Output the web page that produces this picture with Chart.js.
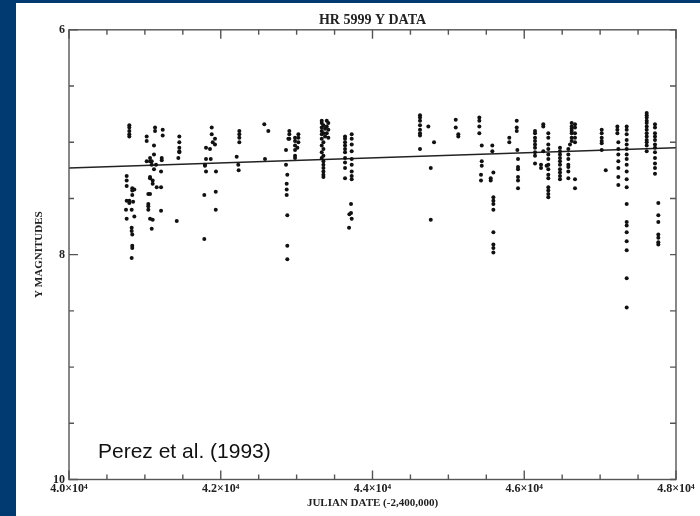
<!DOCTYPE html>
<html>
<head>
<meta charset="utf-8">
<script src="https://cdn.jsdelivr.net/npm/chart.js@4.4.1/dist/chart.umd.min.js"></script>
<style>
  html, body { margin: 0; padding: 0; background: #003a70; }
  #panel { position: absolute; left: 16px; top: 3px; width: 684px; height: 513px; background: #ffffff; }
  #wrap { position: absolute; left: 0; top: 0; width: 700px; height: 516px; }
</style>
</head>
<body>
<div id="panel"></div>
<div id="wrap"><canvas id="hrChart" width="700" height="516"></canvas></div>
<script>
// Julian date (-2,400,000) of each observation
var jd = [
  40795, 40795, 40795, 40795, 40795, 40760, 40760, 40760, 40834, 40834, 40834, 40861, 40760, 40795, 40795, 40845,
  40751, 40826, 40760, 40861, 40826, 40826, 40834, 40834, 40834, 40826,
  41134, 41134, 41235, 41235, 41024, 41024, 41120, 41120, 41068, 41068, 41024, 41090, 41090, 41147, 41222, 41222,
  41120, 41213, 41068, 41068, 41103, 41103, 41156, 41213, 41045, 41068, 41045, 41045, 41045, 41213, 41068, 41103, 41090,
  41454, 41454, 41454, 41454, 41454, 41441, 41420,
  41881, 41881, 41924, 41924, 41894, 41806, 41858, 41806, 41868, 41792, 41792, 41806, 41937, 41783, 41934, 41934, 41783,
  42245, 42245, 42245, 42245, 42210, 42231, 42236,
  42574, 42627, 42583,
  42904, 42904, 42904, 42891, 42860, 42860, 42877, 42869, 42869, 42869, 42877, 42877, 42877,
  42979, 42979, 42979, 42979, 42979, 42979, 43023, 43023, 43023, 43010,
  43331, 43397, 43331, 43418, 43353, 43397, 43331, 43375, 43418, 43331, 43353, 43397, 43331, 43375, 43418, 43331,
  43353, 43331, 43353, 43331, 43353, 43331, 43353, 43353, 43353, 43353, 43353, 43353,
  43638, 43638, 43638, 43638, 43638, 43638, 43638, 43638, 43638, 43638,
  43726, 43726, 43726, 43726, 43726, 43726, 43726, 43726, 43726, 43717, 43717, 43695, 43726, 43691,
  44626, 44626, 44626, 44626, 44626, 44626, 44626, 44626, 44736, 44811, 44768, 44768,
  45097, 45097, 45131, 45131,
  45408, 45408, 45408, 45408, 45440, 45440, 45440, 45430, 45430, 45579, 45579, 45593, 45558, 45558,
  45593, 45593, 45593, 45593, 45593, 45593, 45593, 45593,
  45901, 45901, 45901, 45803, 45803, 45909, 45918, 45918, 45918, 45918, 45918, 45918,
  46142, 46142, 46142, 46142, 46142, 46142, 46142, 46142, 46142, 46251, 46251, 46251,
  46317, 46317, 46317, 46317, 46317, 46317, 46317, 46317, 46317, 46317, 46317, 46317, 46317, 46317, 46221, 46221, 46295,
  46471, 46471, 46471, 46471, 46471, 46471, 46471, 46471, 46471, 46471,
  46581, 46581, 46581, 46581, 46581, 46581, 46581,
  46625, 46625, 46625, 46625, 46625, 46625, 46625, 46603,
  46669, 46669, 46669, 46669, 46669, 46669, 46669,
  47021, 47021, 47021, 47021, 47021, 47021, 47074,
  47227, 47227, 47227, 47240, 47240, 47240, 47240, 47240, 47240, 47240,
  47350, 47350, 47350, 47350, 47350, 47350, 47350, 47350, 47350, 47350,
  47350, 47350, 47350, 47350, 47350, 47350, 47350, 47350, 47350, 47350,
  47614, 47614, 47614, 47614, 47614, 47614, 47614, 47614, 47614, 47614, 47614, 47614, 47614,
  47723, 47723, 47723, 47723, 47723, 47723, 47723, 47723, 47723, 47723, 47723, 47723,
  47767, 47767, 47767, 47767, 47767, 47767, 47767
];

// Y magnitude of each observation
var mag = [
  6.85, 6.87, 6.90, 6.93, 6.95, 7.30, 7.34, 7.39, 7.41, 7.43, 7.47, 7.42, 7.52, 7.52, 7.54, 7.53,
  7.60, 7.60, 7.68, 7.66, 7.76, 7.79, 7.82, 7.92, 7.94, 8.03,
  6.87, 6.90, 6.89, 6.94, 6.95, 6.99, 7.03, 7.11, 7.14, 7.17, 7.17, 7.17, 7.20, 7.20, 7.14, 7.16,
  7.24, 7.26, 7.31, 7.32, 7.34, 7.37, 7.40, 7.40, 7.46, 7.46, 7.55, 7.57, 7.60, 7.61, 7.68, 7.69, 7.77,
  6.95, 7.00, 7.05, 7.08, 7.09, 7.14, 7.70,
  6.87, 6.93, 6.97, 7.02, 7.00, 7.05, 7.06, 7.15, 7.15, 7.20, 7.21, 7.26, 7.26, 7.47, 7.44, 7.60, 7.86,
  6.90, 6.93, 6.96, 7.00, 7.13, 7.20, 7.25,
  6.84, 6.90, 7.15,
  6.90, 6.93, 6.97, 6.97, 7.07, 7.20, 7.29, 7.37, 7.42, 7.47, 7.65, 7.92, 8.04,
  6.96, 6.99, 7.03, 7.07, 7.12, 7.14, 6.93, 6.96, 7.00, 7.05,
  6.81, 6.81, 6.83, 6.83, 6.85, 6.86, 6.87, 6.88, 6.89, 6.90, 6.92, 6.92, 6.93, 6.95, 6.96, 6.97,
  7.00, 7.03, 7.06, 7.09, 7.12, 7.14, 7.17, 7.20, 7.23, 7.26, 7.29, 7.31,
  6.95, 6.97, 7.00, 7.03, 7.06, 7.09, 7.14, 7.18, 7.23, 7.32,
  6.93, 6.97, 7.02, 7.08, 7.15, 7.20, 7.26, 7.30, 7.33, 7.55, 7.63, 7.64, 7.68, 7.76,
  6.76, 6.78, 6.81, 6.85, 6.89, 6.92, 6.94, 7.06, 6.86, 7.00, 7.23, 7.69,
  6.80, 6.87, 6.93, 6.95,
  6.78, 6.81, 6.86, 6.92, 7.03, 7.17, 7.21, 7.29, 7.34, 7.03, 7.08, 7.27, 7.32, 7.34,
  7.49, 7.52, 7.55, 7.60, 7.80, 7.91, 7.94, 7.98,
  6.81, 6.87, 6.90, 6.96, 7.00, 7.07, 7.15, 7.22, 7.24, 7.31, 7.34, 7.41,
  6.90, 6.92, 6.96, 6.99, 7.02, 7.05, 7.09, 7.12, 7.19, 6.84, 6.86, 7.08,
  6.92, 6.96, 7.02, 7.06, 7.11, 7.15, 7.20, 7.24, 7.29, 7.32, 7.40, 7.43, 7.46, 7.49, 7.20, 7.23, 7.21,
  7.05, 7.08, 7.11, 7.14, 7.17, 7.20, 7.24, 7.27, 7.30, 7.33,
  7.06, 7.11, 7.15, 7.20, 7.22, 7.26, 7.32,
  6.83, 6.86, 6.88, 6.90, 6.92, 6.96, 6.99, 7.02,
  6.84, 6.87, 6.92, 6.96, 7.00, 7.33, 7.41,
  6.89, 6.92, 6.96, 6.99, 7.01, 7.07, 7.25,
  6.86, 6.89, 6.92, 7.00, 7.06, 7.11, 7.17, 7.23, 7.31, 7.38,
  6.86, 6.89, 6.93, 6.98, 7.02, 7.06, 7.11, 7.15, 7.20, 7.26,
  7.33, 7.40, 7.55, 7.71, 7.74, 7.80, 7.88, 7.96, 8.21, 8.47,
  6.74, 6.76, 6.78, 6.81, 6.83, 6.86, 6.89, 6.92, 6.95, 6.98, 7.00, 7.03, 7.08,
  6.84, 6.87, 6.92, 6.95, 6.98, 7.02, 7.05, 7.09, 7.14, 7.19, 7.23, 7.28,
  7.54, 7.65, 7.71, 7.82, 7.85, 7.89, 7.91
];

// straight-line fit drawn across the plot
var fitJD = [40000, 48000];
var fitMag = [7.23, 7.05];

// axis ticks
var xTickValues = [40000, 42000, 44000, 46000, 48000];
var yTickValues = [6, 8, 10];
var xMinorStep = 500;
var yMinorStep = 0.5;

var credit = "Perez et al. (1993)";

var points = jd.map(function (d, i) { return { x: d, y: mag[i] }; });
var fitLine = fitJD.map(function (d, i) { return { x: d, y: fitMag[i] }; });

var serif = "'Liberation Serif', 'DejaVu Serif', serif";

// box round the plot with inward tick marks, plus the credit line
var frame = {
  id: "frame",
  afterDatasetsDraw: function (chart) {
    var ctx = chart.ctx;
    var a = chart.chartArea;
    var xs = chart.scales.x;
    var ys = chart.scales.y;
    ctx.save();
    ctx.strokeStyle = "#555";
    ctx.lineWidth = 1.4;
    ctx.strokeRect(a.left, a.top, a.right - a.left, a.bottom - a.top);
    ctx.beginPath();
    for (var v = xs.min; v <= xs.max; v += xMinorStep) {
      var px = xs.getPixelForValue(v);
      var len = v % 2000 === 0 ? 9 : 5;
      ctx.moveTo(px, a.top); ctx.lineTo(px, a.top + len);
      ctx.moveTo(px, a.bottom); ctx.lineTo(px, a.bottom - len);
    }
    for (var m = ys.min; m <= ys.max + 0.001; m += yMinorStep) {
      var py = ys.getPixelForValue(m);
      var lenL = m % 2 === 0 ? 9 : 5;
      ctx.moveTo(a.left, py); ctx.lineTo(a.left + lenL, py);
      ctx.moveTo(a.right, py); ctx.lineTo(a.right - 6, py);
    }
    ctx.stroke();
    ctx.fillStyle = "#111";
    ctx.font = "21px 'Liberation Sans', Arial, sans-serif";
    ctx.textBaseline = "alphabetic";
    ctx.fillText(credit, 98, 458);
    ctx.restore();
  }
};

new Chart("hrChart", {
  type: "scatter",
  data: {
    datasets: [
      {
        data: points,
        pointRadius: 2,
        pointBackgroundColor: "#111",
        pointBorderWidth: 0,
        showLine: false
      },
      {
        type: "line",
        data: fitLine,
        borderColor: "#222",
        borderWidth: 1.5,
        pointRadius: 0,
        fill: false
      }
    ]
  },
  options: {
    responsive: false,
    animation: false,
    devicePixelRatio: 1,
    layout: { padding: { left: 0, right: 24, top: 0, bottom: 0 } },
    plugins: {
      legend: { display: false },
      tooltip: { enabled: false },
      title: {
        display: true,
        text: "HR 5999 Y DATA",
        fullSize: false,
        color: "#222",
        font: { family: serif, size: 14, weight: "bold" },
        padding: { top: 12, bottom: 1 }
      }
    },
    scales: {
      x: {
        type: "linear",
        min: 40000,
        max: 48000,
        grid: { display: false, drawTicks: false },
        border: { display: false },
        afterBuildTicks: function (s) { s.ticks = xTickValues.map(function (v) { return { value: v }; }); },
        afterFit: function (s) { s.height = 36.5; },
        ticks: {
          autoSkip: false,
          maxRotation: 0,
          padding: 2,
          color: "#222",
          font: { family: serif, size: 12, weight: "bold" },
          callback: function (v) { return (v / 10000).toFixed(1) + "×10⁴"; }
        },
        title: {
          display: true,
          text: "JULIAN DATE (-2,400,000)",
          color: "#222",
          font: { family: serif, size: 11, weight: "bold" },
          padding: { top: 0, bottom: 6 }
        }
      },
      y: {
        type: "linear",
        reverse: true,
        min: 6,
        max: 10,
        grid: { display: false, drawTicks: false },
        border: { display: false },
        afterBuildTicks: function (s) { s.ticks = yTickValues.map(function (v) { return { value: v }; }); },
        afterFit: function (s) { s.width = 69; },
        ticks: {
          padding: 4,
          color: "#222",
          font: { family: serif, size: 12, weight: "bold" }
        },
        title: {
          display: true,
          text: "Y MAGNITUDES",
          color: "#222",
          font: { family: serif, size: 11, weight: "bold" },
          padding: { top: 33, bottom: 0 }
        }
      }
    }
  },
  plugins: [frame]
});
</script>
</body>
</html>
